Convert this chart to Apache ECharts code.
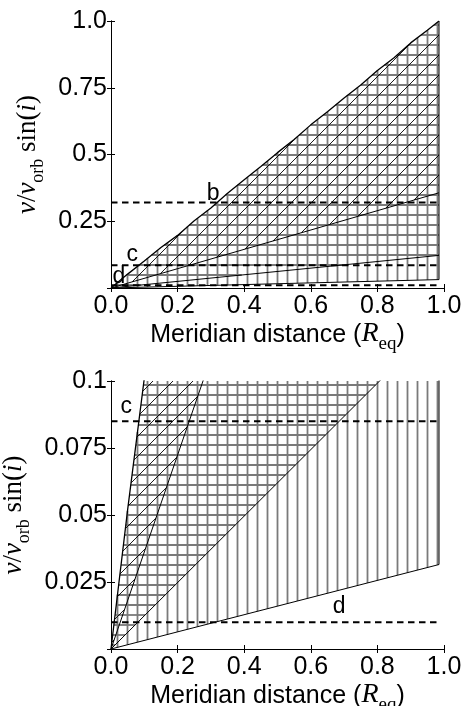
<!DOCTYPE html>
<html><head><meta charset="utf-8">
<script src="https://cdn.jsdelivr.net/npm/echarts@6/dist/echarts.min.js"></script>
<style>html,body{margin:0;padding:0;background:#fff}#c{width:468px;height:706px}</style>
</head><body><div id="c"></div>
<script>
// ---------------- data ----------------
const xTickLabels = ['0.0', '0.2', '0.4', '0.6', '0.8', '1.0'];
const yTickLabelsTop = ['', '0.25', '0.5', '0.75', '1.0'];
const yTickLabelsBottom = ['', '0.025', '0.05', '0.075', '0.1'];

const edgeX = 0.985; // right edge of the covered region (Meridian distance)
// upper envelope of the region
const upperX = [0, 0.05, 0.10, 0.15, 0.20, 0.25, 0.30, 0.35, 0.40, 0.45, 0.50, 0.55, 0.60, 0.65, 0.70, 0.75, 0.80, 0.85, 0.90, 0.95, 0.985];
const upperY = [0, 0.052, 0.101, 0.152, 0.197, 0.252, 0.300, 0.355, 0.405, 0.455, 0.507, 0.556, 0.611, 0.660, 0.712, 0.760, 0.815, 0.862, 0.918, 0.965, 1.0];
// lower limits (rays through the origin) of the three hatched regions
const slopeDiag = 0.362;   // '/' hatch region
const slopeHoriz = 0.124;  // '-' hatch region
const slopeVert = 0.032;   // '|' hatch region

// dashed reference levels
const levelNames = ['b', 'c', 'd'];
const levelValues = [0.32, 0.085, 0.01];
// label positions
const labelTopX = [0.307, 0.064, 0.024];
const labelTopY = [0.354, 0.125, 0.041];
const labelBotNames = ['c', 'd'];
const labelBotX = [0.046, 0.685];
const labelBotY = [0.0903, 0.0159];

// ---------------- helpers ----------------
function cross(ax, ay, bx, by) { return ax * by - ay * bx; }
function clipLinePoly(p0, d, poly) {
  const ts = [];
  const n = poly.length;
  for (let i = 0; i < n; i++) {
    const a = poly[i], b = poly[(i + 1) % n];
    const ex = b[0] - a[0], ey = b[1] - a[1];
    const den = cross(d[0], d[1], ex, ey);
    if (Math.abs(den) < 1e-9) continue;
    const wx = a[0] - p0[0], wy = a[1] - p0[1];
    const t = cross(wx, wy, ex, ey) / den;
    const u = cross(wx, wy, d[0], d[1]) / den;
    if (u >= 0 && u < 1) ts.push(t);
  }
  ts.sort((x, y) => x - y);
  const segs = [];
  for (let i = 0; i + 1 < ts.length; i += 2) {
    segs.push([p0[0] + d[0] * ts[i], p0[1] + d[1] * ts[i], p0[0] + d[0] * ts[i + 1], p0[1] + d[1] * ts[i + 1]]);
  }
  return segs;
}
function clipRect(s, r) {
  let [x1, y1, x2, y2] = s;
  let t0 = 0, t1 = 1;
  const dx = x2 - x1, dy = y2 - y1;
  const p = [-dx, dx, -dy, dy];
  const q = [x1 - r.x, r.x + r.width - x1, y1 - r.y, r.y + r.height - y1];
  for (let i = 0; i < 4; i++) {
    if (p[i] === 0) { if (q[i] < 0) return null; continue; }
    const t = q[i] / p[i];
    if (p[i] < 0) { if (t > t1) return null; if (t > t0) t0 = t; }
    else { if (t < t0) return null; if (t < t1) t1 = t; }
  }
  return [x1 + t0 * dx, y1 + t0 * dy, x1 + t1 * dx, y1 + t1 * dy];
}
const HATCH = {
  v: { step: 10, phase: 7.5, color: '#7a7a7a', width: 1.8 },
  h: { step: 10, phase: 5, color: '#7a7a7a', width: 1.8 },
  d: { step: 20, phase: 14, color: '#000', width: 0.9 }
};
function hatchSeries(gridIdx, family, slope) {
  return {
    type: 'custom', xAxisIndex: gridIdx * 2, yAxisIndex: gridIdx * 2, silent: true, z: 1,
    data: [[0, 0]],
    renderItem: function (params, api) {
      const cs = params.coordSys;
      const poly = upperX.map((x, i) => api.coord([x, upperY[i]]));
      poly.push(api.coord([edgeX, slope * edgeX]));
      const H = HATCH[family];
      const lines = [];
      let segs = [];
      if (family === 'v') {
        let k0 = Math.floor((cs.x - H.phase) / H.step);
        for (let k = k0; H.phase + k * H.step <= cs.x + cs.width; k++) {
          const X = H.phase + k * H.step;
          segs = segs.concat(clipLinePoly([X, 0], [0, 1], poly));
        }
      } else if (family === 'h') {
        let k0 = Math.floor((cs.y - H.phase) / H.step);
        for (let k = k0; H.phase + k * H.step <= cs.y + cs.height; k++) {
          const Y = H.phase + k * H.step;
          segs = segs.concat(clipLinePoly([0, Y], [1, 0], poly));
        }
      } else {
        const cmin = cs.x + cs.y, cmax = cs.x + cs.width + cs.y + cs.height;
        let k0 = Math.floor((cmin - H.phase) / H.step);
        for (let k = k0; H.phase + k * H.step <= cmax; k++) {
          const C = H.phase + k * H.step;
          segs = segs.concat(clipLinePoly([C, 0], [1, -1], poly));
        }
      }
      segs.forEach(s => {
        const c = clipRect(s, cs);
        if (c) lines.push({ type: 'line', shape: { x1: c[0], y1: c[1], x2: c[2], y2: c[3] }, style: { stroke: H.color, lineWidth: H.width } });
      });
      return { type: 'group', children: lines };
    }
  };
}
function lineSeries(gridIdx, pts, style, z) {
  return {
    type: 'line', xAxisIndex: gridIdx * 2, yAxisIndex: gridIdx * 2, data: pts,
    symbol: 'none', silent: true, z: z || 3, lineStyle: style
  };
}
function panelSeries(gridIdx, labNames, labX, labY) {
  const s = [];
  s.push(hatchSeries(gridIdx, 'v', slopeVert));
  s.push(hatchSeries(gridIdx, 'h', slopeHoriz));
  s.push(hatchSeries(gridIdx, 'd', slopeDiag));
  const black = { color: '#000', width: 1 };
  s.push(lineSeries(gridIdx, upperX.map((x, i) => [x, upperY[i]]), { color: '#000', width: 1.3 }));
  [slopeDiag, slopeHoriz, slopeVert].forEach(sl => s.push(lineSeries(gridIdx, [[0, 0], [edgeX, sl * edgeX]], black)));
  s.push(lineSeries(gridIdx, [[edgeX, slopeVert * edgeX], [edgeX, upperY[upperY.length - 1]]], black));
  levelValues.forEach(v => s.push(lineSeries(gridIdx, [[0, v], [edgeX, v]], { color: '#000', width: 2, type: [6.5, 4.5] }, 4)));
  s.push({
    type: 'custom', xAxisIndex: gridIdx * 2, yAxisIndex: gridIdx * 2, silent: true, z: 6,
    data: labNames.map((n, i) => [labX[i], labY[i]]),
    renderItem: function (params, api) {
      const p = api.coord([api.value(0), api.value(1)]);
      return {
        type: 'text', x: p[0], y: p[1],
        style: { text: labNames[params.dataIndex], fill: '#000', fontSize: 23, fontFamily: 'Liberation Sans', align: 'center', verticalAlign: 'middle' }
      };
    }
  });
  return s;
}

const sansLabel = { color: '#000', fontSize: 25, fontFamily: 'Liberation Sans' };
const xName = '{t|Meridian distance (}{r|R}{s|eq}{t|)}';
const xNameStyle = {
  rich: {
    t: { fontFamily: 'Liberation Sans', fontSize: 25, color: '#000', lineHeight: 30, verticalAlign: 'bottom' },
    r: { fontFamily: 'Liberation Serif', fontStyle: 'italic', fontSize: 28, color: '#000', lineHeight: 30, verticalAlign: 'bottom' },
    s: { fontFamily: 'Liberation Serif', fontSize: 19, color: '#000', lineHeight: 25, verticalAlign: 'bottom', padding: [0, 0, -6, 0] }
  }
};
const yName = '{i|v}{t|/}{i|v}{s|orb}{t| sin(}{i|i}{t|)}';
const yNameStyle = {
  rich: {
    t: { fontFamily: 'Liberation Serif', fontSize: 27, color: '#000', lineHeight: 30, verticalAlign: 'bottom' },
    i: { fontFamily: 'Liberation Serif', fontStyle: 'italic', fontSize: 27, color: '#000', lineHeight: 30, verticalAlign: 'bottom' },
    s: { fontFamily: 'Liberation Serif', fontSize: 18, color: '#000', lineHeight: 25, verticalAlign: 'bottom', padding: [0, 0, -6, 0] }
  }
};
const axLine = { show: true, lineStyle: { color: '#000', width: 1 } };
const tick = { show: true, inside: true, length: 4, lineStyle: { color: '#000', width: 1 } };

function xAxes(gridIdx) {
  return [
    { type: 'value', gridIndex: gridIdx, min: 0, max: 1, interval: 0.2, position: 'bottom',
      axisLine: axLine, axisTick: tick, splitLine: { show: false },
      axisLabel: Object.assign({ margin: 6, formatter: v => xTickLabels[Math.round(v / 0.2)] }, sansLabel),
      name: xName, nameLocation: 'middle', nameGap: 25, nameTextStyle: xNameStyle },
    { type: 'value', gridIndex: gridIdx, min: 0, max: 1, interval: 0.2, position: 'top',
      axisLine: axLine, axisTick: tick, splitLine: { show: false }, axisLabel: { show: false } }
  ];
}
function yAxes(gridIdx, max, labels) {
  const step = max / 4;
  return [
    { type: 'value', gridIndex: gridIdx, min: 0, max: max, interval: step, position: 'left',
      axisLine: axLine, axisTick: tick, splitLine: { show: false },
      axisLabel: Object.assign({ margin: 4, formatter: v => labels[Math.round(v / step)] }, sansLabel),
      name: yName, nameLocation: 'middle', nameRotate: 90, nameGap: 48, nameTextStyle: yNameStyle },
    { type: 'value', gridIndex: gridIdx, min: 0, max: max, interval: step, position: 'right',
      axisLine: axLine, axisTick: tick, splitLine: { show: false }, axisLabel: { show: false } }
  ];
}

const chart = echarts.init(document.getElementById('c'), null, { renderer: 'canvas' });
chart.setOption({
  animation: false,
  backgroundColor: '#fff',
  grid: [
    { left: 111, top: 21, width: 333, height: 267, containLabel: false, outerBoundsMode: 'none' },
    { left: 111, top: 381, width: 333, height: 268, containLabel: false, outerBoundsMode: 'none' }
  ],
  xAxis: xAxes(0).concat(xAxes(1)),
  yAxis: yAxes(0, 1, yTickLabelsTop).concat(yAxes(1, 0.1, yTickLabelsBottom)),
  series: panelSeries(0, levelNames, labelTopX, labelTopY)
    .concat(panelSeries(1, labelBotNames, labelBotX, labelBotY))
});
</script></body></html>
